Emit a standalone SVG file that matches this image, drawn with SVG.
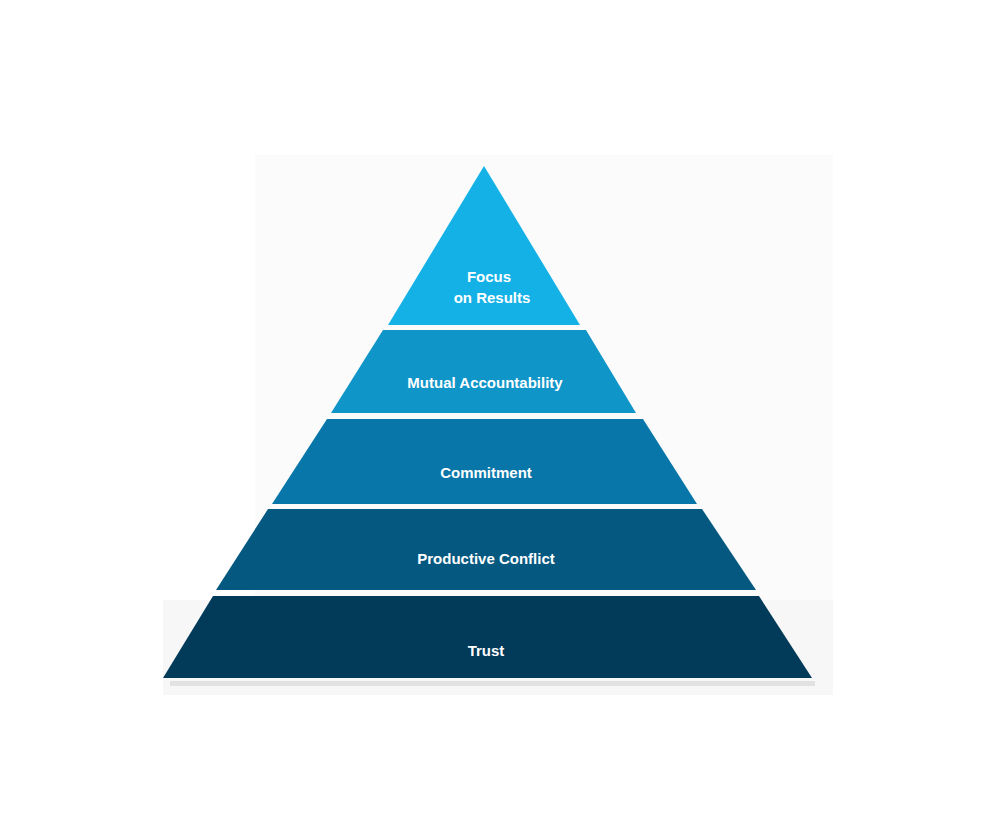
<svg xmlns="http://www.w3.org/2000/svg" width="982" height="815" viewBox="0 0 982 815">
<style>
text{font-family:"Liberation Sans",Arial,sans-serif;font-weight:bold;font-size:15px;fill:#fff;text-anchor:middle}
</style>
<rect width="982" height="815" fill="#fff"/>
<rect x="255" y="155" width="578" height="540" fill="#fbfbfb"/>
<rect x="163" y="600" width="670" height="95" fill="#f7f7f7"/>
<rect x="170" y="681" width="645" height="5" fill="#e2e2e2"/>
<g id="layer5"><polygon points="213,596 759,596 812,678 163,678" fill="#023a59"/><text x="486" y="656">Trust</text></g>
<g id="layer4"><polygon points="268,509 702,509 756,590 216,590" fill="#05587f"/><text x="486" y="564">Productive Conflict</text></g>
<g id="layer3"><polygon points="327,419 643,419 697,504 272,504" fill="#0876a8"/><text x="486" y="478">Commitment</text></g>
<g id="layer2"><polygon points="383,330 586,330 636,413 331,413" fill="#0f95c8"/><text x="485" y="388">Mutual Accountability</text></g>
<g id="layer1"><polygon points="484,166 580,325 388,325" fill="#14b1e7"/><text x="489" y="282">Focus</text><text x="492" y="303">on Results</text></g>
<g id="connectors"/>
</svg>
